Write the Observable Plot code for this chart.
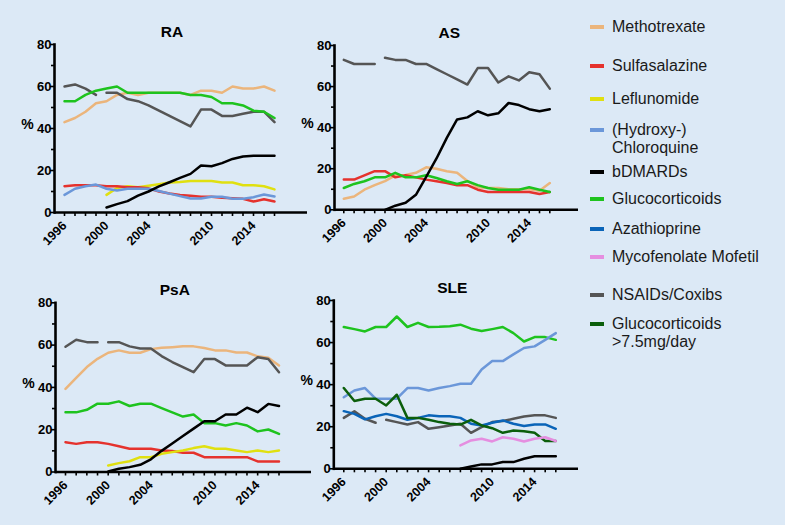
<!DOCTYPE html>
<html>
<head>
<meta charset="utf-8">
<script src="https://cdn.jsdelivr.net/npm/d3@7"></script>
<script src="https://cdn.jsdelivr.net/npm/@observablehq/plot@0.6"></script>
<style>
  html, body { margin: 0; padding: 0; background: #dce9f6; }
  #wrap { position: relative; width: 785px; height: 525px; background: #dce9f6; overflow: hidden;
          font-family: "Liberation Sans", Arial, sans-serif; }
  .panel { position: absolute; }
  .lg { position: absolute; left: 590px; font-size: 16px; line-height: 18px; color: #1a1a1a; }
  .lg .sw { position: absolute; left: 0; top: 7px; width: 14px; height: 4px; }
  .lg .tx { position: absolute; left: 22px; top: 0; white-space: pre; }
</style>
</head>
<body>
<div id="wrap"></div>
<script>
// ---------------- data ----------------
const years = [1996,1997,1998,1999,2000,2001,2002,2003,2004,2005,2006,2007,2008,2009,2010,2011,2012,2013,2014,2015,2016];
const yearLabels = [1996, 2000, 2004, 2010, 2014];
const yMajor = [0, 20, 40, 60, 80];
const yMinor = [10, 30, 50, 70];
const nsaidRestart = 2000; // NSAIDs/Coxibs line restarts in 2000

const drugs = ["Methotrexate", "Sulfasalazine", "Leflunomide", "(Hydroxy-)\nChloroquine", "bDMARDs",
               "Glucocorticoids", "Azathioprine", "Mycofenolate Mofetil", "NSAIDs/Coxibs", "Glucocorticoids\n>7.5mg/day"];
const drugColors = ["#ebb57c", "#e5322d", "#e0e010", "#6b97d9", "#000000",
                    "#1ec31e", "#0a64b8", "#e58ee0", "#555555", "#0b5e0b"];

// RA
const raMtx   = [43,45,48,52,53,56,57,56,57,57,57,57,56,58,58,57,60,59,59,60,58];
const raSsz   = [12.5,13,13,13,12.5,12.5,12,12,11.5,10,9,8.3,8,7.5,7.5,7,6.8,6.5,5.2,6.3,5.2];
const raLef   = [null,null,null,null,8.4,11.7,12.5,12,12.7,13.5,14.3,14.5,15,15,15,14.3,14.3,13,13,12.5,11];
const raHcq   = [8.4,11.3,12.5,13.3,11.3,10.5,11.3,11.3,11.3,10.2,9,7.8,6.7,6.7,7.5,7.5,6.5,6.5,7.3,8.6,7.6];
const raBd    = [null,null,null,null,2.4,4,5.4,8,10,12.4,14.4,16.5,18.4,22.4,22,23.5,25.5,26.7,27,27,27];
const raGc    = [53,53,56,58,59,60,57,57,57,57,57,57,56,56,55,52,52,51,48.5,48,45];
const raNsaid = [60,61,59,56,57,57,54,53,51,48.5,46,43.5,41,49,49,46,46,47,48,48,43];

// AS
const asMtx   = [5.4,6.5,9.8,12,14,16.8,17,18,20.7,20,18.8,18,14,11,10.6,10.6,10,10,10,9.3,13];
const asSsz   = [14.7,14.7,16.8,18.8,18.8,15.8,16.8,15.8,14.7,13.9,13,12,12,9.8,8.7,8.7,8.7,8.7,8.7,7.7,8.7];
const asBd    = [null,null,null,null,0,2,3.4,7.3,16,25,35,44,45,48,46,47,52,51,49,48,49];
const asGc    = [10.6,12.6,13.9,15.8,15.8,18,15.8,15.8,16.8,15.5,13.9,12.6,13.9,12,10.6,9.8,9.8,9.8,11,9.8,8.7];
const asNsaid = [73,71,71,71,74,73,73,71,71,68.5,66,63.5,61,69,69,62,65,63,67,66,59];

// PsA
const psaMtx   = [39.3,44.5,49.6,53.5,56.4,57.5,56.4,56.4,58.1,58.7,59,59.4,59.4,58.6,57.5,57.5,56.5,56.5,54.7,54,50.4];
const psaSsz   = [14.1,13.3,14.1,14.1,13.3,12.2,11,11,11,10.2,9.9,9.1,9.1,7,7,7,7,7,5,5,5];
const psaLef   = [null,null,null,null,3.1,4.2,5.1,7,7,8.6,9.4,10.2,11.3,12.2,11,11,10.2,9.4,10.2,9.4,10.2];
const psaBd    = [null,null,null,null,0.2,1.5,2.3,3.4,6,10,13.5,17,20.5,24,24,27.2,27.2,30.4,28.3,32.2,31.2];
const psaGc    = [28.2,28.2,29.4,32.3,32.3,33.4,31.2,32.3,32.3,30.2,28.2,26.2,27.2,23.1,23.1,22,23.1,22,19.2,20.1,18];
const psaNsaid = [59.2,62.5,61.4,61.4,61.4,61.4,59.4,58.4,58.4,54.8,52,49.6,47.2,53.4,53.4,50.4,50.4,50.4,54.3,53.4,47.2];

// SLE
const sleHcq   = [34,37.2,38.4,33.3,33.3,33.3,38.4,38.4,37.2,38.4,39.3,40.4,40.4,47.2,51.2,51.2,54.4,57.4,58.2,61.3,64.5];
const sleBd    = [null,null,null,null,null,null,null,null,null,null,null,0,1.1,2.1,2.1,3.2,3.2,4.8,6,6,6];
const sleGc    = [67.4,66.4,65.3,67.4,67.4,72.4,67.4,69.4,67.4,67.5,67.8,68.5,66.6,65.5,66.4,67.4,64.5,60.5,62.6,62.6,61.3];
const sleAza   = [27.4,26.1,23.5,25,26.1,25,23.3,24.2,25.4,25,25,24.2,21.4,20.6,21.9,23,21.4,20.3,21.1,21.1,19];
const sleMmf   = [null,null,null,null,null,null,null,null,null,null,null,11.1,13.5,14.3,13,15,14.3,13,14.3,15,13.2];
const sleNsaid = [24.2,27.3,23.8,21.9,23.3,22.2,21.1,22.2,19,19.8,20.6,21.4,17.1,19.8,22.2,22.7,23.8,24.9,25.4,25.4,24.2];
const sleGc75  = [38.4,32.2,33.3,33.3,30.1,35.2,24.2,24.2,23.3,22.2,21.4,21,23.3,20.6,19.3,17.1,18.2,17.9,17.1,13.2,13.2];

// ---------------- tidy rows ----------------
const [MTX, SSZ, LEF, HCQ, BD, GC, AZA, MMF, NSAID, GC75] = drugs;
function tidy(series) {
  return series.flatMap(([drug, vals]) =>
    vals.map((v, i) => ({drug, year: years[i], value: v,
      seg: drug === NSAID && years[i] >= nsaidRestart ? 1 : 0}))
      .filter(d => d.value != null));
}
const panels = [
  {title: "RA", rows: tidy([[MTX, raMtx], [NSAID, raNsaid], [GC, raGc], [LEF, raLef], [SSZ, raSsz], [HCQ, raHcq], [BD, raBd]]),
   left: 0, top: 0, w: 310, h: 250, axisX: 54, axisEnd: 307, y80: 44, y0: 212, x1996: 64, x2016: 274},
  {title: "AS", rows: tidy([[NSAID, asNsaid], [MTX, asMtx], [SSZ, asSsz], [GC, asGc], [BD, asBd]]),
   left: 280, top: 0, w: 302, h: 250, axisX: 334, axisEnd: 578, y80: 45, y0: 209.3, x1996: 343.3, x2016: 549.3},
  {title: "PsA", rows: tidy([[MTX, psaMtx], [NSAID, psaNsaid], [GC, psaGc], [SSZ, psaSsz], [LEF, psaLef], [BD, psaBd]]),
   left: 0, top: 260, w: 312, h: 265, axisX: 55, axisEnd: 311, y80: 302.3, y0: 471.5, x1996: 65, x2016: 278.5},
  {title: "SLE", rows: tidy([[GC, sleGc], [HCQ, sleHcq], [NSAID, sleNsaid], [AZA, sleAza], [GC75, sleGc75], [MMF, sleMmf], [BD, sleBd]]),
   left: 280, top: 260, w: 302, h: 265, axisX: 333.3, axisEnd: 578, y80: 300, y0: 468.3, x1996: 343.3, x2016: 555.3}
];

const wrap = document.getElementById("wrap");
const font = '"Liberation Sans", Arial, Helvetica, sans-serif';

for (const p of panels) {
  const chart = Plot.plot({
    width: p.w, height: p.h,
    marginLeft: p.axisX - p.left,
    marginRight: p.left + p.w - p.axisEnd,
    marginTop: p.y80 - p.top,
    marginBottom: p.top + p.h - p.y0,
    x: {domain: [years[0], years[years.length - 1]], range: [p.x1996 - p.left, p.x2016 - p.left]},
    y: {domain: [yMajor[0], yMajor[yMajor.length - 1]]},
    color: {domain: drugs, range: drugColors},
    style: {background: "transparent", fontFamily: font, fontWeight: "bold", fontSize: "13px", color: "#000", overflow: "visible"},
    marks: [
      Plot.axisY({ticks: yMinor, tickSize: 3, strokeWidth: 1.6, tickFormat: () => "", label: null}),
      Plot.axisY({ticks: yMajor, tickSize: 4, tickPadding: -1, strokeWidth: 1.6, label: null, fontSize: 13}),
      Plot.axisX({ticks: years, tickSize: 4, strokeWidth: 1.6, tickFormat: () => "", label: null}),
      Plot.text(yearLabels, {x: d => d, text: d => String(d), frameAnchor: "bottom", rotate: -45,
        textAnchor: "end", lineAnchor: "middle", dy: 11, fontSize: 12.5, fontWeight: "bold"}),
      Plot.line(p.rows, {x: "year", y: "value", stroke: "drug", z: d => d.drug + "|" + d.seg, strokeWidth: 2.5}),
      Plot.frame({anchor: "left", strokeWidth: 2.6, stroke: "#000"}),
      Plot.ruleY([0], {strokeWidth: 2.6, stroke: "#000"}),
      Plot.text([p.title], {x: () => (years[0] + years[years.length - 1]) / 2, frameAnchor: "top",
        lineAnchor: "bottom", textAnchor: "middle", dy: -8, dx: 2.5, fontSize: 15.5, fontWeight: "bold"}),
      Plot.text(["%"], {frameAnchor: "left", textAnchor: "middle", lineAnchor: "middle", dx: -27, dy: -4, fontSize: 14, fontWeight: "bold"})
    ]
  });
  chart.classList.add("panel");
  chart.style.left = p.left + "px";
  chart.style.top = p.top + "px";
  wrap.appendChild(chart);
}

// ---------------- legend ----------------
const legendCenters = [27, 66, 99, 130, 172, 199, 229, 257, 295, 324];
drugs.forEach((d, i) => {
  const item = document.createElement("div");
  item.className = "lg";
  item.style.top = (legendCenters[i] - 9) + "px";
  const sw = document.createElement("div");
  sw.className = "sw";
  sw.style.background = drugColors[i];
  const tx = document.createElement("div");
  tx.className = "tx";
  tx.textContent = d;
  item.appendChild(sw);
  item.appendChild(tx);
  wrap.appendChild(item);
});
</script>
</body>
</html>
